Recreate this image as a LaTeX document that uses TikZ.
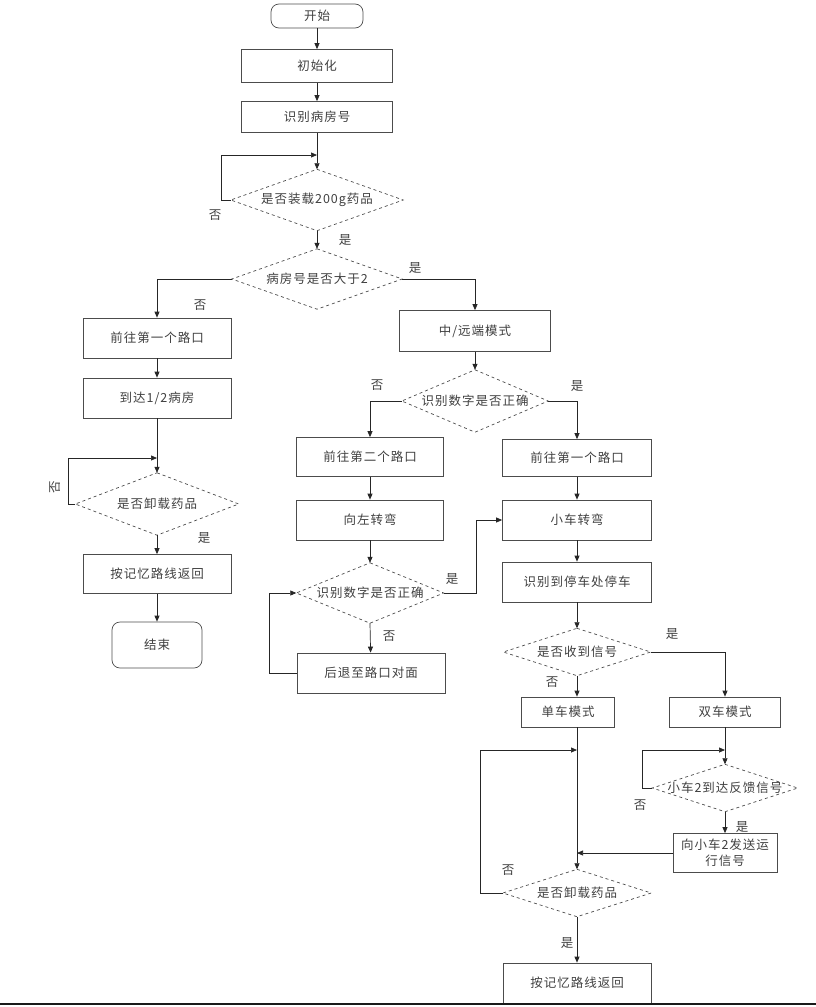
\documentclass[tikz,border=0pt]{standalone}
\usepackage{fontspec}
\newfontfamily\cjk[LetterSpace=8]{Noto Sans CJK SC}
\usetikzlibrary{arrows.meta}
\newcommand\drawdia[1]{\draw[dialine] (#1.north) -- (#1.east) -- (#1.south) -- (#1.west) -- cycle;}
\begin{document}
\begin{tikzpicture}[x=1pt,y=-1pt,
  every node/.style={font=\cjk\fontsize{12.5}{15}\selectfont, text=black!75},
  proc/.style={draw=black!70, line width=0.7pt, rectangle, inner sep=1pt},
  term/.style={proc, rounded corners=8pt},
  dec/.style={rectangle, inner sep=0pt},
  dialine/.style={draw=black!70, dashed, line width=0.7pt},
  lbl/.style={inner sep=1pt},
  arr/.style={draw=black!85, line width=0.7pt, -{Triangle[length=6pt,width=5pt]}}]
\useasboundingbox (0,0) rectangle (816,1007);
% main column
\node[term, minimum width=92pt, minimum height=24pt] (start) at (317,16) {开始};
\node[proc, minimum width=151pt, minimum height=33pt] (init) at (317,66) {初始化};
\node[proc, minimum width=151pt, minimum height=31pt] (recog) at (317,117) {识别病房号};
\node[dec, minimum width=172pt, minimum height=61pt] (d1) at (317,200) {是否装载200g药品};
\node[dec, minimum width=170pt, minimum height=60pt] (d2) at (317,279) {病房号是否大于2};
% left branch
\node[proc, minimum width=148pt, minimum height=40pt] (L1) at (157,338) {前往第一个路口};
\node[proc, minimum width=148pt, minimum height=40pt] (L2) at (157,398) {到达1/2病房};
\node[dec, minimum width=163pt, minimum height=62pt] (Ld) at (157,504) {是否卸载药品};
\node[proc, minimum width=148pt, minimum height=39pt] (L3) at (157,574) {按记忆路线返回};
\node[term, minimum width=90pt, minimum height=46pt] (Lend) at (157,645) {结束};
% middle
\node[proc, minimum width=151pt, minimum height=41pt] (M) at (475,331) {中/远端模式};
\node[dec, minimum width=146pt, minimum height=62pt] (Md) at (475,401) {识别数字是否正确};
\node[proc, minimum width=147pt, minimum height=39pt] (A1) at (370,457) {前往第二个路口};
\node[proc, minimum width=147pt, minimum height=40pt] (A2) at (370,520) {向左转弯};
\node[dec, minimum width=147pt, minimum height=60pt] (Ad) at (370,593) {识别数字是否正确};
\node[proc, minimum width=148pt, minimum height=40pt] (A3) at (371,673) {后退至路口对面};
% right
\node[proc, minimum width=149pt, minimum height=37pt] (B1) at (577,458) {前往第一个路口};
\node[proc, minimum width=149pt, minimum height=40pt] (B2) at (577,520) {小车转弯};
\node[proc, minimum width=149pt, minimum height=40pt] (B3) at (577,582) {识别到停车处停车};
\node[dec, minimum width=147pt, minimum height=47pt] (Bd) at (577,652) {是否收到信号};
\node[proc, minimum width=93pt, minimum height=30pt] (S) at (568,712) {单车模式};
\node[proc, minimum width=111pt, minimum height=30pt] (D) at (725,712) {双车模式};
\node[dec, minimum width=145pt, minimum height=47pt] (Dd) at (725,788) {小车2到达反馈信号};
\node[proc, minimum width=104pt, minimum height=39pt, align=center, font=\cjk\fontsize{12.5}{16}\selectfont] (D2) at (725,853) {向小车2发送运\\行信号};
\node[dec, minimum width=148pt, minimum height=47pt] (Fd) at (577,893) {是否卸载药品};
\node[proc, minimum width=148pt, minimum height=40pt] (F) at (577,983) {按记忆路线返回};
% diamond outlines
\drawdia{d1}
\drawdia{d2}
\drawdia{Ld}
\drawdia{Md}
\drawdia{Ad}
\drawdia{Bd}
\drawdia{Dd}
\drawdia{Fd}
% junctions
\coordinate (j1) at (317,155);
\coordinate (j2) at (157,458);
\coordinate (j3) at (725,750);
\coordinate (j4) at (577,853);
\coordinate (j5) at (577,750);
% connectors main
\draw[arr] (start) -- (init);
\draw[arr] (init) -- (recog);
\draw[arr] (recog) -- (d1.north);
\draw[arr] (d1.west) -- ++(-9,0) |- (j1);
\draw[arr] (d1.south) -- (d2.north);
\draw[arr] (d2.west) -| (L1.north);
\draw[arr] (d2.east) -| (M.north);
% left
\draw[arr] (L1) -- (L2);
\draw[arr] (L2) -- (Ld.north);
\draw[arr] (Ld.west) -- ++(-7,0) |- (j2);
\draw[arr] (Ld.south) -- (L3);
\draw[arr] (L3) -- (Lend);
% middle
\draw[arr] (M) -- (Md.north);
\draw[arr] (Md.west) -| (A1.north);
\draw[arr] (Md.east) -| (B1.north);
\draw[arr] (A1) -- (A2);
\draw[arr] (A2) -- (Ad.north);
\draw[arr] (Ad.south) -- (A3);
\draw[arr] (A3.west) -- ++(-27,0) |- (Ad.west);
\draw[arr] (Ad.east) -- ++(33,0) |- (B2.west);
% right
\draw[arr] (B1) -- (B2);
\draw[arr] (B2) -- (B3);
\draw[arr] (B3) -- (Bd.north);
\draw[arr] (Bd.east) -| (D.north);
\draw[arr] (Bd.south) -- (Bd.south |- S.north);
\draw[arr] (D) -- (Dd.north);
\draw[arr] (Dd.west) -- ++(-10,0) |- (j3);
\draw[arr] (Dd.south) -- (D2);
\draw[arr] (D2.west) -- (j4);
\draw[arr] (S.south -| Fd.north) -- (Fd.north);
\draw[arr] (Fd.west) -- ++(-22,0) |- (j5);
\draw[arr] (Fd.south) -- (F);
% labels
\node[lbl] at (215,215) {否};
\node[lbl] at (345,240) {是};
\node[lbl] at (200,305) {否};
\node[lbl] at (415,268) {是};
\node[lbl, rotate=90] at (55,487) {否};
\node[lbl] at (204,538) {是};
\node[lbl] at (377,385) {否};
\node[lbl] at (577,386) {是};
\node[lbl] at (452,579) {是};
\node[lbl] at (389,636) {否};
\node[lbl] at (672,634) {是};
\node[lbl] at (552,682) {否};
\node[lbl] at (640,805) {否};
\node[lbl] at (742,827) {是};
\node[lbl] at (508,870) {否};
\node[lbl] at (567,943) {是};
% bottom rule
\draw[line width=2.5pt, black!90] (0,1004) -- (816,1004);
\end{tikzpicture}
\end{document}
